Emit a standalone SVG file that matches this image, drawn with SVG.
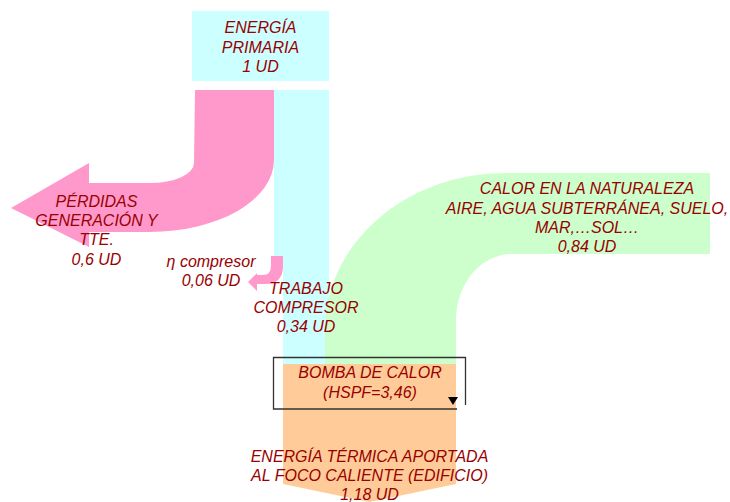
<svg xmlns="http://www.w3.org/2000/svg" width="730" height="502" viewBox="0 0 730 502">
<style>
.t{font-family:"Liberation Sans",Arial,sans-serif;font-style:italic;font-size:16px;fill:#990000;text-anchor:middle}
.pink{fill:#ff99cc}
.cyan{fill:#ccffff}
.green{fill:#ccffcc}
.orange{fill:#ffcc99}
</style>
<rect width="730" height="502" fill="#ffffff"/>
<g id="flows">
<g id="cyan-flow">
<rect class="cyan" x="274" y="90" width="55" height="166"/>
<rect class="cyan" x="283" y="256" width="46" height="110"/>
</g>
<path id="perdidas-arrow" class="pink" d="M195,90 H274 V160 A124,72 0 0 1 150,232 H89 V247 L11,208 L89,163 V183 H150 A44,20 0 0 0 194,163 Z"/>
<path id="compresor-arrow" class="pink" d="M271,256 H283 V266 Q283,284 265,284 H257 V291 L248,282 L257,273 V275 H263 Q271,275 271,266 Z"/>
<path id="calor-flow" class="green" d="M325,366 V330 A180,157 0 0 1 505,173 H710 V254 H512 A56,66 0 0 0 456,320 V366 Z"/>
<path id="salida-flow" class="orange" d="M283,364 H456 V484 L369.5,502 L283,484 Z"/>
</g>
<g id="energia-primaria">
<rect class="cyan" x="192" y="11" width="137" height="70"/>
<text class="t" x="260.5" y="33">ENERGÍA</text>
<text class="t" x="260.5" y="52.5">PRIMARIA</text>
<text class="t" x="260.5" y="72">1 UD</text>
</g>
<g id="perdidas">
<text class="t" x="96.5" y="207">PÉRDIDAS</text>
<text class="t" x="96.5" y="226">GENERACIÓN Y</text>
<text class="t" x="96.5" y="245">TTE.</text>
<text class="t" x="96.5" y="265">0,6 UD</text>
</g>
<g id="eta-compresor">
<text class="t" x="211" y="267">η compresor</text>
<text class="t" x="211" y="286">0,06 UD</text>
</g>
<g id="trabajo">
<text class="t" x="306" y="294">TRABAJO</text>
<text class="t" x="306" y="313">COMPRESOR</text>
<text class="t" x="306" y="332">0,34 UD</text>
</g>
<g id="calor-naturaleza">
<text class="t" x="587" y="194">CALOR EN LA NATURALEZA</text>
<text class="t" x="587" y="213.5">AIRE, AGUA SUBTERRÁNEA, SUELO,</text>
<text class="t" x="587" y="233">MAR,…SOL…</text>
<text class="t" x="587" y="252">0,84 UD</text>
</g>
<g id="bomba">
<path d="M457,409 H273.5 V357.5 H465.5 V405" fill="none" stroke="#333333" stroke-width="1.3"/>
<polygon points="448,397 458,397 453,405" fill="#000000"/>
<text class="t" x="370" y="378">BOMBA DE CALOR</text>
<text class="t" x="370" y="398">(HSPF=3,46)</text>
</g>
<g id="energia-termica">
<text class="t" x="369.5" y="462">ENERGÍA TÉRMICA APORTADA</text>
<text class="t" x="369.5" y="481">AL FOCO CALIENTE (EDIFICIO)</text>
<text class="t" x="369.5" y="499.5">1,18 UD</text>
</g>
</svg>
